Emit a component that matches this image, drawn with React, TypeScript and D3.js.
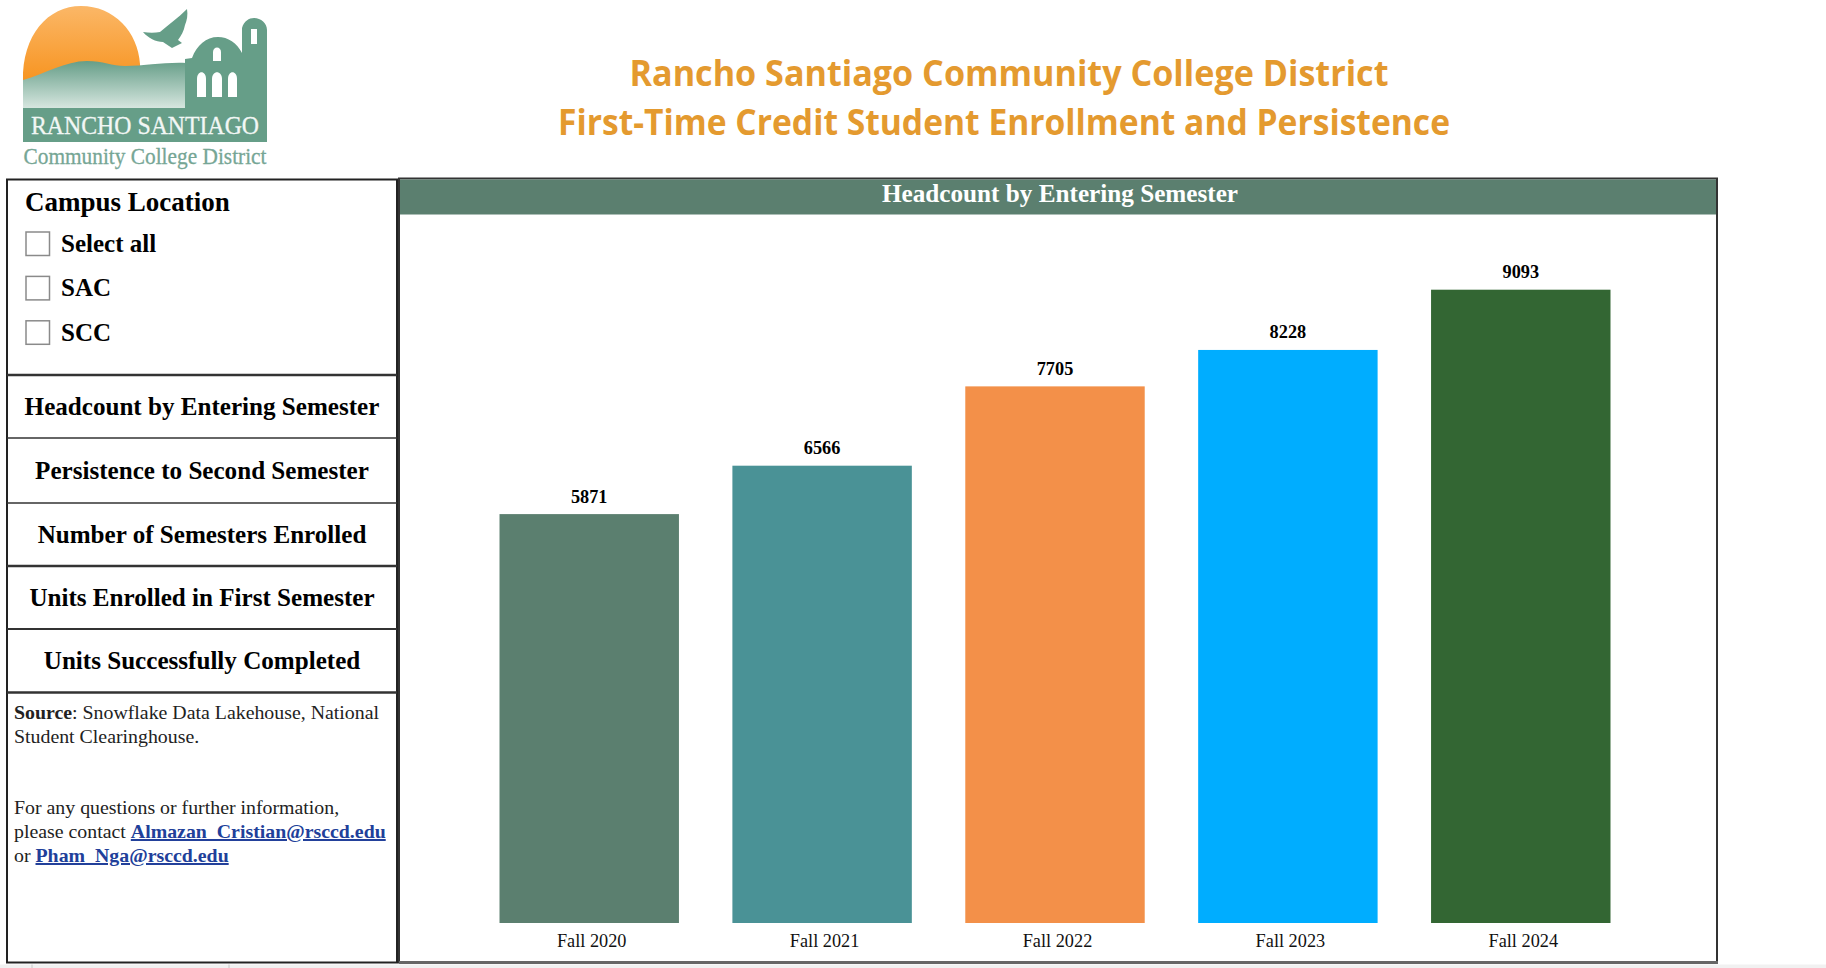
import React from "react";
import * as d3 from "d3";

const semesters = ["Fall 2020", "Fall 2021", "Fall 2022", "Fall 2023", "Fall 2024"];
const headcounts = [5871, 6566, 7705, 8228, 9093];
const barColors = ["#5b7f6f", "#4a9296", "#f39049", "#00adff", "#336633"];
const titleLines = ["Rancho Santiago Community College District", "First-Time Credit Student Enrollment and Persistence"];
const titleWidths = [759, 892];
const titleCentres = [1009, 1004];
const campusOptions = ["Select all", "SAC", "SCC"];
const navItems = ["Headcount by Entering Semester", "Persistence to Second Semester", "Number of Semesters Enrolled", "Units Enrolled in First Semester", "Units Successfully Completed"];
const navEdges = [375, 438, 503, 566, 629, 692.5];
const navEdgeWidths = [2.5, 1.5, 1.5, 2.5, 2, 2.5];
const tabEdges = [32, 229];

const serif = "'Liberation Serif', serif";
const W = 1826, H = 968;

const x = d3.scaleBand<string>().domain(semesters).range([488.7, 1621.3]).paddingInner(0.2295).paddingOuter(0.0464);
const y = d3.scaleLinear().domain([0, 9093]).range([923, 289.7]);

function Logo() {
  const green = "#669e88";
  return (
    <g>
      <defs>
        <linearGradient id="sun" x1="0" y1="0" x2="0" y2="1">
          <stop offset="0" stopColor="#fbb767" />
          <stop offset="1" stopColor="#f7931e" />
        </linearGradient>
        <linearGradient id="hill" x1="0" y1="0" x2="0" y2="1">
          <stop offset="0" stopColor={green} />
          <stop offset="1" stopColor="#d6e6df" />
        </linearGradient>
      </defs>
      <path d="M23 81 C22 35 48 6 81 6 C114 6 138 32 140 64 L140 68 L23 84 Z" fill="url(#sun)" />
      <path d="M23 80 C45 74 65 61 87 61 C103 61 112 66 125 66 C145 66 165 62 186 63 L186 108 L23 108 Z" fill="url(#hill)" />
      <rect x="23" y="108" width="244" height="34" fill={green} />
      <path d="M185 142 L185 59 L192 58 C197 45 206 37 218 37 C228 37 237 43 242 53 L242 28 C244 21 249 18 254 18 C261 18 267 23 267 30 L267 142 Z" fill={green} />
      <rect x="251" y="29" width="6" height="15" fill="#fff" />
      <path d="M213 61 L213 52 C213 46 221 46 221 52 L221 61 Z" fill="#fff" />
      <path d="M197 97 L197 79 C197 70 206 70 206 79 L206 97 Z" fill="#fff" />
      <path d="M212 97 L212 79 C212 70 222 70 222 79 L222 97 Z" fill="#fff" />
      <path d="M228 97 L228 79 C228 70 237 70 237 79 L237 97 Z" fill="#fff" />
      <path d="M143 32 C149 33 155 33 160 32 C168 25 178 18 187 9 C188 15 187 20 185 25 C184 31 181 36 178 40 L182 43 L172 48 L163 42 C156 42 148 38 143 32 Z" fill={green} />
      <text x="145" y="134" textAnchor="middle" fontFamily={serif} fontSize="26" fill="#f2f7f5" stroke="#f2f7f5" strokeWidth="0.3" textLength="228" lengthAdjust="spacingAndGlyphs">RANCHO SANTIAGO</text>
      <text x="145" y="164" textAnchor="middle" fontFamily={serif} fontSize="24" fill="#76a695" stroke="#76a695" strokeWidth="0.3" textLength="243" lengthAdjust="spacingAndGlyphs">Community College District</text>
    </g>
  );
}

export default function App() {
  return (
    <svg width={W} height={H} viewBox={`0 0 ${W} ${H}`} style={{ position: "absolute", left: 0, top: 0, background: "#fff" }}>
      <rect x="0" y="964.5" width={W} height="3.5" fill="#f1f1f1" />
      {tabEdges.map((t) => <line key={t} x1={t} x2={t} y1="964.5" y2={H} stroke="#c8c8c8" />)}
      <Logo />
      {titleLines.map((t, i) => (
        <text key={t} x={titleCentres[i]} y={86 + i * 49.3} textAnchor="middle" fontFamily="'Open Sans', sans-serif" fontWeight="700" fontSize="35" fill="#e49a2f" textLength={titleWidths[i]} lengthAdjust="spacingAndGlyphs">{t}</text>
      ))}

      <rect x="7" y="179.5" width="390" height="783" fill="#fff" stroke="#222" strokeWidth="2" />
      <text x="25" y="211" fontFamily={serif} fontWeight="700" fontSize="27" fill="#000">Campus Location</text>
      {campusOptions.map((c, i) => (
        <g key={c}>
          <rect x="26" y={232 + i * 44.4} width="23.5" height="23.5" fill="#fff" stroke="#8a8a8a" strokeWidth="1.5" />
          <text x="61" y={252 + i * 44.4} fontFamily={serif} fontWeight="700" fontSize="25" fill="#000">{c}</text>
        </g>
      ))}
      {navEdges.map((e, i) => <line key={e} x1="7" x2="397" y1={e} y2={e} stroke="#333" strokeWidth={navEdgeWidths[i]} />)}
      {navItems.map((n, i) => (
        <text key={n} x="202" y={(navEdges[i] + navEdges[i + 1]) / 2 + 8.7} textAnchor="middle" fontFamily={serif} fontWeight="700" fontSize="25.1" fill="#000">{n}</text>
      ))}
      <g fontFamily={serif} fontSize="19.85" fill="#222">
        <text x="14" y="719"><tspan fontWeight="700">Source</tspan>: Snowflake Data Lakehouse, National</text>
        <text x="14" y="743">Student Clearinghouse.</text>
        <text x="14" y="814">For any questions or further information,</text>
        <text x="14" y="838">please contact <tspan fontWeight="700" fill="#213f9a" textDecoration="underline">Almazan_Cristian@rsccd.edu</tspan></text>
        <text x="14" y="862">or <tspan fontWeight="700" fill="#213f9a" textDecoration="underline">Pham_Nga@rsccd.edu</tspan></text>
      </g>

      <rect x="399" y="178.5" width="1318" height="784" fill="#fff" stroke="#333" strokeWidth="2" />
      <line x1="399" x2="1718" y1="962.5" y2="962.5" stroke="#666" strokeWidth="3" />
      <rect x="400" y="179.5" width="1316" height="35" fill="#5b7f6f" />
      <text x="1060" y="202" textAnchor="middle" fontFamily={serif} fontWeight="700" fontSize="25.2" fill="#fff">Headcount by Entering Semester</text>

      {semesters.map((s, i) => (
        <g key={s}>
          <rect x={x(s)} y={y(headcounts[i])} width={x.bandwidth()} height={y(0) - y(headcounts[i])} fill={barColors[i]} />
          <text x={x(s)! + x.bandwidth() / 2} y={y(headcounts[i]) - 11.5} textAnchor="middle" fontFamily={serif} fontWeight="700" fontSize="18.3" fill="#000">{headcounts[i]}</text>
          <text x={x(s)! + x.bandwidth() / 2 + 2.5} y={947} textAnchor="middle" fontFamily={serif} fontSize="18.3" fill="#111">{s}</text>
        </g>
      ))}
    </svg>
  );
}
